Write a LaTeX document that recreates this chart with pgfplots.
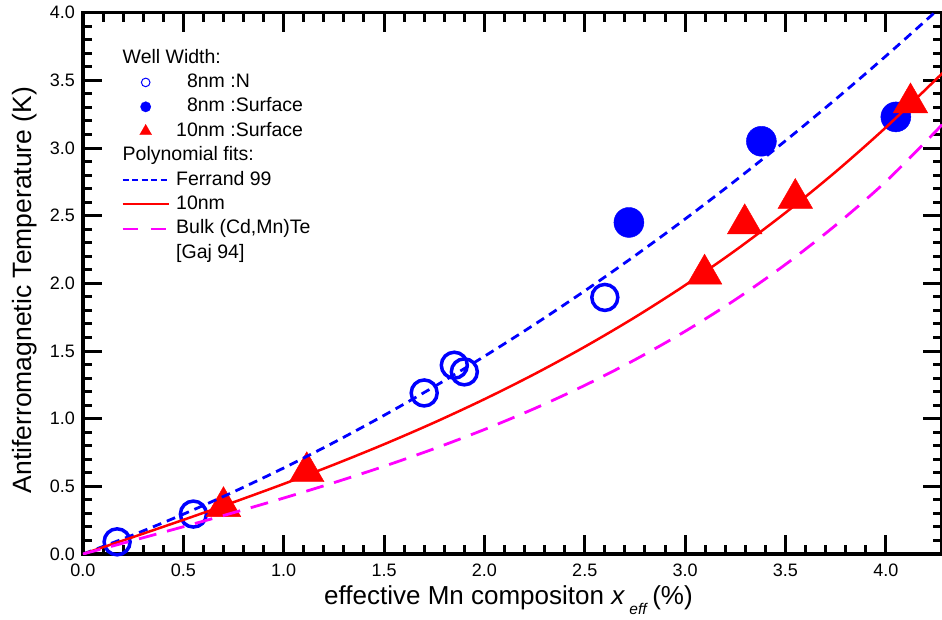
\documentclass[border=0pt]{standalone}
\usepackage{fontspec}
\setmainfont{Liberation Sans}
\usepackage{pgfplots}
\pgfplotsset{compat=1.18}
\definecolor{cblue}{RGB}{0,0,255}
\definecolor{cred}{RGB}{255,0,0}
\definecolor{cmag}{RGB}{255,0,255}
\pgfplotsset{
  lline/.style={legend image code/.code={\draw[##1] (0pt,0pt) -- (46pt,0pt);}},
  lmark/.style={legend image code/.code={\draw[##1] plot coordinates {(23pt,0pt)};}},
  lhead/.style={legend image code/.code={\node[overlay,anchor=west,inner sep=0pt] at (0pt,0pt) {#1};}},
}
\begin{document}
\begin{tikzpicture}
\begin{axis}[
  at={(0,0)}, anchor=south west,
  scale only axis, width=859pt, height=541.3pt,
  xmin=0, xmax=4.28, ymin=0, ymax=4,
  xtick={0,0.5,...,4}, ytick={0,0.5,...,4},
  minor x tick num=4, minor y tick num=4,
  tick align=inside,
  major tick length=19pt, minor tick length=9pt,
  tick style={black, line width=3pt},
  axis line style={black, line width=3.5pt, line cap=rect},
  clip mode=individual,
  xticklabel style={font=\fontsize{18}{20}\selectfont, inner sep=0pt, anchor=north, yshift=-10pt},
  yticklabel style={font=\fontsize{18}{20}\selectfont, inner sep=0pt, anchor=east, xshift=-8pt},
  /pgf/number format/.cd, fixed, fixed zerofill, precision=1, assume math mode=true, /pgfplots/.cd,
  xlabel={effective Mn compositon \textit{x}\,\raisebox{-10pt}{\fontsize{15.5}{16}\selectfont\textit{eff}}\,(\%)},
  xlabel style={at={(axis description cs:0.4953,-0.0924)}, anchor=base, inner sep=0pt, font=\fontsize{26}{30}\selectfont},
  ylabel={Antiferromagnetic Temperature (K)},
  ylabel style={at={(axis description cs:-0.0594,0.4877)}, anchor=base, inner sep=0pt, font=\fontsize{26.5}{30}\selectfont},
  legend cell align=left,
  legend style={at={(axis description cs:0.04505,0.9329)}, anchor=north west, draw=none, fill=none,
    inner sep=0pt, outer sep=0pt, row sep=6.4pt, column sep=6.5pt,
    font=\fontsize{19.5}{22}\selectfont,
    nodes={inner sep=0pt, text height=14pt, text depth=4pt}},
]
\addlegendimage{lhead={Well Width:}}
\addlegendentry{}
\addlegendimage{lmark, mark=o, cblue, mark size=4.3pt, line width=1pt}
\addlegendentry{\hphantom{1}8nm :N}
\addlegendimage{lmark, mark=*, cblue, mark size=5.3pt, line width=0.1pt}
\addlegendentry{\hphantom{1}8nm :Surface}
\addlegendimage{lmark, mark=triangle*, cred, mark size=7pt, line width=0.1pt}
\addlegendentry{10nm :Surface}
\addlegendimage{lhead={Polynomial fits:}}
\addlegendentry{}
\addlegendimage{lline, cblue, line width=2pt, dash pattern=on 6pt off 3.5pt}
\addlegendentry{Ferrand 99}
\addlegendimage{lline, cred, line width=2pt}
\addlegendentry{10nm}
\addlegendimage{lline, cmag, line width=2pt, dash pattern=on 15pt off 13pt}
\addlegendentry{Bulk (Cd,Mn)Te}
\addlegendimage{empty legend}
\addlegendentry{{[}Gaj 94]}

% 8nm : N (open circles)
\addplot[forget plot, only marks, mark=o, mark size=13pt, cblue, mark options={line width=3.5pt}] coordinates {
(0.17,0.09) (0.55,0.295) (1.70,1.19) (1.85,1.395) (1.90,1.346) (2.60,1.896)};
% 8nm : Surface (filled circles)
\addplot[forget plot, only marks, mark=*, mark size=15pt, cblue, mark options={draw=none}] coordinates {
(2.72,2.45) (3.38,3.05) (4.05,3.23)};
% 10nm : Surface (triangles)
\addplot[forget plot, only marks, mark=triangle*, mark size=20pt, cred, mark options={draw=none}] coordinates {
(0.70,0.35) (1.115,0.608) (3.097,2.068) (3.297,2.44) (3.549,2.627) (4.123,3.333)};

% Ferrand 99
\addplot[forget plot, cblue, line width=2.8pt, dash pattern=on 9pt off 6pt, smooth] coordinates {
(0,0) (0.25,0.1412) (0.5,0.2942) (0.75,0.4591) (1,0.6357) (1.25,0.8243) (1.5,1.0246) (1.75,1.2368) (2,1.4608) (2.25,1.6967) (2.5,1.9444) (2.75,2.2040) (3,2.4753) (3.25,2.7586) (3.5,3.0536) (3.75,3.3605) (4,3.6792) (4.25,4.0098) (4.3,4.0774)};
% 10nm fit
\addplot[forget plot, cred, line width=2.5pt, smooth] coordinates {
(0,0) (0.25,0.1253) (0.5,0.2523) (0.75,0.3826) (1,0.518) (1.25,0.6602) (1.5,0.8108) (1.75,0.9715) (2,1.144) (2.25,1.330) (2.5,1.5313) (2.75,1.7493) (3,1.986) (3.25,2.2429) (3.5,2.5218) (3.75,2.8242) (4,3.152) (4.25,3.5068) (4.3,3.5812)};
% Bulk (Cd,Mn)Te
\addplot[forget plot, cmag, line width=2.8pt, dash pattern=on 18pt off 11pt, smooth] coordinates {
(0,0) (0.25,0.1002) (0.5,0.2016) (0.75,0.3055) (1,0.4135) (1.25,0.5271) (1.5,0.6481) (1.75,0.7784) (2,0.920) (2.25,1.0751) (2.5,1.2461) (2.75,1.4354) (3,1.6455) (3.25,1.8792) (3.5,2.1396) (3.75,2.4294) (4,2.752) (4.25,3.125) (4.3,3.21)};
\end{axis}
\pgfresetboundingbox
\path[use as bounding box] (-83pt,-65pt) rectangle (859pt,554pt);
\end{tikzpicture}
\end{document}
